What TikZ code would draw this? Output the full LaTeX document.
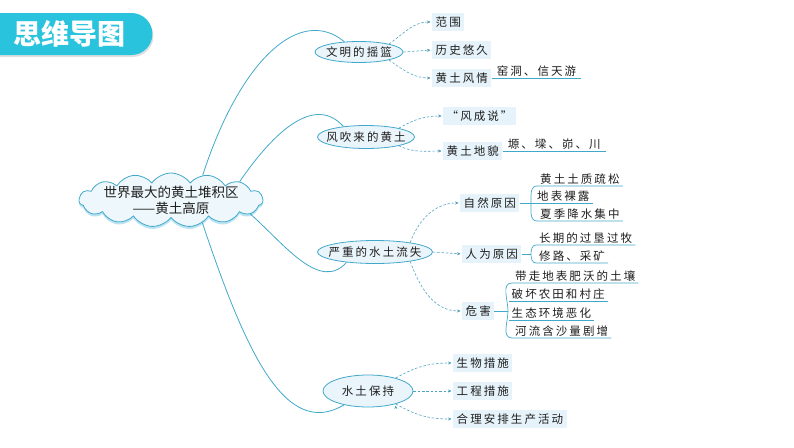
\documentclass[tikz,border=0pt]{standalone}
\usepackage{fontspec}
\setmainfont{Noto Sans CJK SC}[LetterSpace=18]
\newfontfamily\plaincjk{Noto Sans CJK SC}
\usetikzlibrary{shapes.geometric,shapes.symbols,shapes.misc,arrows.meta,shadows}
\definecolor{mapline}{HTML}{42A8CA}
\definecolor{dashline}{HTML}{4DA3C4}
\definecolor{boxfill}{HTML}{E6F3FA}
\definecolor{ellfill}{HTML}{EAF5FB}
\definecolor{cloudfill}{HTML}{EEF8FC}
\definecolor{cloudshade}{HTML}{A9DCEE}
\definecolor{titlecyan}{HTML}{2AC3DE}
\definecolor{inkgray}{HTML}{1E1E1E}

\begin{document}
\begin{tikzpicture}[x=1pt,y=1pt,
    font=\fontsize{11.5}{13}\selectfont, text=inkgray,
    titlebox/.style={rounded rectangle, rounded rectangle left arc=none, fill=titlecyan,
        text=white, font=\plaincjk\fontsize{28}{30}\selectfont\bfseries,
        minimum width=162pt, minimum height=42pt, inner sep=0pt,
        drop shadow={opacity=0.25, shadow xshift=1pt, shadow yshift=-2pt}},
    rootcloud/.style={cloud, cloud puffs=15, cloud puff arc=110, cloud ignores aspect,
        draw=mapline, fill=cloudfill, line width=0.8pt, align=center,
        font=\plaincjk\fontsize{13.5}{16}\selectfont,
        minimum width=184pt, minimum height=54pt, inner xsep=-30pt, inner ysep=-10pt,
        drop shadow={fill=cloudshade, opacity=0.8, shadow xshift=0pt, shadow yshift=-2.5pt}},
    topic/.style={ellipse, draw=mapline, fill=ellfill, line width=0.8pt,
        inner xsep=-12pt, inner ysep=-6pt},
    sub/.style={fill=boxfill, inner xsep=3.5pt, inner ysep=4pt, anchor=west},
    leaf/.style={anchor=south west, inner xsep=3pt, inner ysep=1.5pt},
    branch/.style={draw=mapline, line width=0.8pt},
    uline/.style={draw=mapline, line width=0.7pt},
    link/.style={draw=dashline, line width=0.6pt, dash pattern=on 2.5pt off 1.8pt,
        -{Stealth[length=3.5pt,width=3pt]}, shorten >=1.5pt}]

\useasboundingbox (0,0) rectangle (794,-447);

\node[titlebox] (title) at (69,-34) {思维导图};

\node[rootcloud] (root) at (171,-200) {世界最大的黄土堆积区\\——黄土高原};

\node[topic, minimum width=88pt, minimum height=21pt] (t1) at (359,-52) {文明的摇篮};
\node[topic, minimum width=97pt, minimum height=23pt] (t2) at (366,-137) {风吹来的黄土};
\node[topic, minimum width=115pt, minimum height=23pt] (t3) at (375,-252) {严重的水土流失};
\node[topic, minimum width=90pt, minimum height=32pt] (t4) at (368,-391) {水土保持};

\path[branch]
    (root.38) .. controls (240,-60) and (300,-5) .. (t1.145)
    (root.15) .. controls (275,-130) and (315,-95) .. (t2.155)
    (root.-10) .. controls (285,-245) and (320,-292) .. (t3.-160)
    (root.-36) .. controls (245,-350) and (285,-440) .. (t4.-150);

\node[sub] (s11) at (432,-22) {范围};
\node[sub] (s12) at (432,-50) {历史悠久};
\node[sub] (s13) at (432,-78) {黄土风情};
\node[sub] (s21) at (443,-116) {“风成说”};
\node[sub] (s22) at (443,-151) {黄土地貌};
\node[sub] (s31) at (460,-203) {自然原因};
\node[sub] (s32) at (462,-254) {人为原因};
\node[sub] (s33) at (462,-311) {危害};
\node[sub] (s41) at (453,-363) {生物措施};
\node[sub] (s42) at (453,-391) {工程措施};
\node[sub] (s43) at (453,-419) {合理安排生产活动};

\path[link]
    (t1.15) edge[out=35,in=180] (s11.west)
    (t1.east) edge (s12.west)
    (t1.-15) edge[out=-35,in=180] (s13.west)
    (t2.15) edge[out=30,in=180] (s21.west)
    (t2.-15) edge[out=-25,in=180] (s22.west)
    (t3.15) edge[out=70,in=180] (s31.west)
    (t3.east) edge (s32.west)
    (t3.-15) edge[out=-70,in=180] (s33.west)
    (t4.25) edge[out=30,in=180] (s41.west)
    (t4.east) edge (s42.west)
    (t4.-25) edge[out=-30,in=180] (s43.west);

\node[leaf, inner xsep=5pt] (l13) at (s13.east) {窑洞、信天游};
\node[leaf, inner xsep=5pt] (l22) at (s22.east) {塬、墚、峁、川};
\draw[uline] (s13.east) -- (l13.south east);
\draw[uline] (s22.east) -- (l22.south east);

\coordinate (k31) at (531,-203);
\node[leaf] (l311) at (537,-186) {黄土土质疏松};
\node[leaf] (l312) at (534,-203) {地表裸露};
\node[leaf] (l313) at (537,-221) {夏季降水集中};
\draw[uline] (s31.east) -- (l312.south east);
\draw[uline] (k31) to[out=90,in=180] (l311.south west) -- (l311.south east);
\draw[uline] (k31) to[out=-90,in=180] (l313.south west) -- (l313.south east);

\coordinate (k32) at (531,-254);
\node[leaf] (l321) at (536,-245) {长期的过垦过牧};
\node[leaf] (l322) at (536,-263) {修路、采矿};
\draw[uline] (s32.east) -- (k32);
\draw[uline] (k32) to[out=90,in=180] (l321.south west) -- (l321.south east);
\draw[uline] (k32) to[out=-90,in=180] (l322.south west) -- (l322.south east);

\coordinate (k33) at (508,-311);
\node[leaf] (l331) at (512,-283) {带走地表肥沃的土壤};
\node[leaf] (l332) at (508.5,-301) {破坏农田和村庄};
\node[leaf] (l333) at (508.5,-320) {生态环境恶化};
\node[leaf] (l334) at (512,-338) {河流含沙量剧增};
\draw[uline] (s33.east) -- (k33);
\draw[uline] (k33) to[out=90,in=180] (l331.south west) -- (l331.south east);
\draw[uline] (k33) to[out=-90,in=180] (l334.south west) -- (l334.south east);
\draw[uline] (l332.south west) -- (l332.south east);
\draw[uline] (l333.south west) -- (l333.south east);

\end{tikzpicture}
\end{document}
